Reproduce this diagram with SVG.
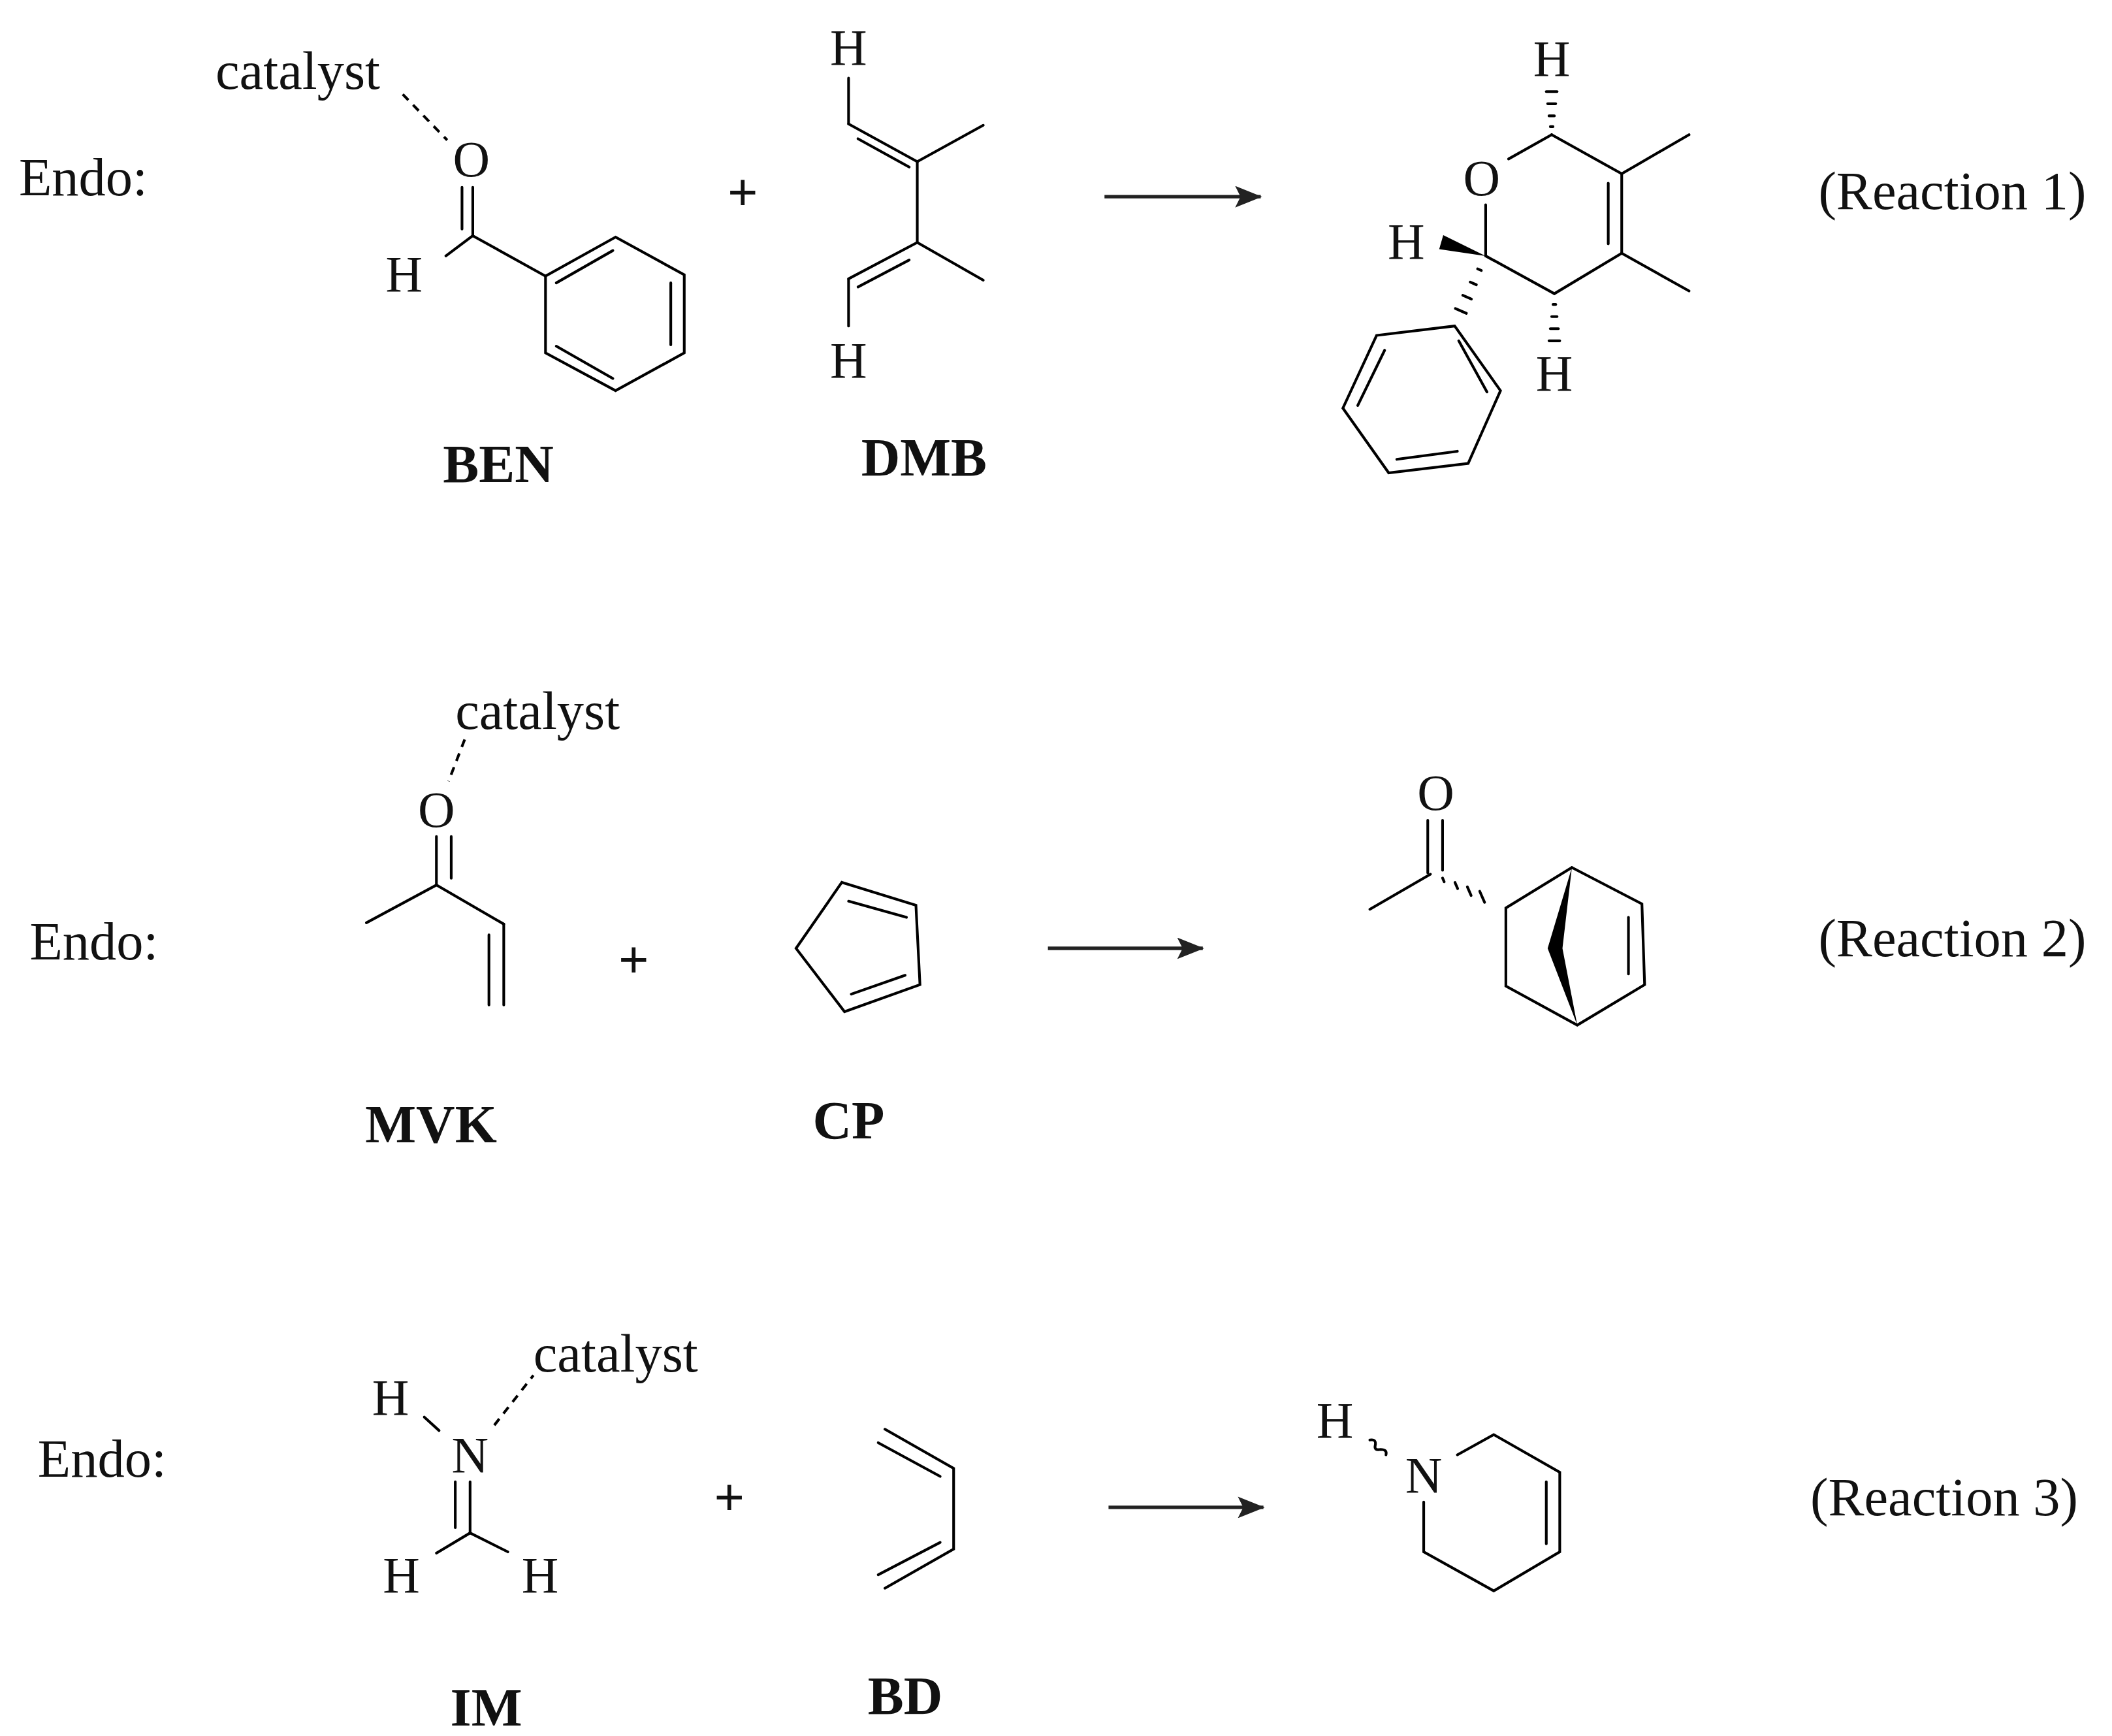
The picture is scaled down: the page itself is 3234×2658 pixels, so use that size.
<svg xmlns="http://www.w3.org/2000/svg" width="3234" height="2658" viewBox="0 0 3234 2658">
<style>
.b{stroke:#000;stroke-width:2;fill:none;stroke-linecap:round}
.d{stroke:#000;stroke-width:2;fill:none;stroke-dasharray:6,5}
.t{font-family:"Liberation Serif",serif;font-size:40px;fill:#111}
.a{font-family:"Liberation Serif",serif;font-size:38px;fill:#111;text-anchor:middle}
.l{font-family:"Liberation Serif",serif;font-size:40px;font-weight:bold;fill:#111;text-anchor:middle}
.arr{stroke:#222;stroke-width:2.6;fill:none}
</style>
<defs>
<marker id="ah" markerWidth="10" markerHeight="8" refX="9" refY="4" orient="auto" markerUnits="userSpaceOnUse"><path d="M0,0 L10,4 L0,8 Z" fill="#222"/></marker>
<marker id="ah2" viewBox="0 0 20 16" markerWidth="20" markerHeight="16" refX="19" refY="8" orient="auto" markerUnits="userSpaceOnUse"><path d="M0,0 L20,8 L0,16 L4,8 Z" fill="#222"/></marker>
</defs>
<rect width="3234" height="2658" fill="#fff"/>
<g transform="scale(2.0625)">
<!-- Reaction 1 -->
<g id="r1-labels">
<text class="t" x="14" y="145">Endo:</text>
<text class="t" x="1350" y="155">(Reaction 1)</text>
</g>
<g id="BEN">
<text class="t" x="160" y="66">catalyst</text>
<line class="d" x1="299" y1="70" x2="332" y2="104"/>
<text class="a" x="350" y="131">O</text>
<line class="b" x1="343" y1="139" x2="343" y2="170"/>
<line class="b" x1="351" y1="139" x2="351" y2="175"/>
<text class="a" x="300" y="216">H</text>
<line class="b" x1="351" y1="175" x2="331" y2="190"/>
<line class="b" x1="351" y1="175" x2="405" y2="205"/>
<polygon class="b" points="457,176 508,204 508,262 457,290 405,262 405,205"/>
<line class="b" x1="413" y1="210" x2="455" y2="186"/>
<line class="b" x1="498" y1="210" x2="498" y2="256"/>
<line class="b" x1="413" y1="257" x2="455" y2="281"/>
<text class="l" x="370" y="358">BEN</text>
</g>
<g id="plus1"><text class="t" x="540" y="156" style="font-weight:bold">+</text></g>
<g id="DMB">
<text class="a" x="630" y="48">H</text>
<line class="b" x1="630" y1="58" x2="630" y2="92"/>
<line class="b" x1="630" y1="92" x2="681" y2="120"/>
<line class="b" x1="637" y1="103" x2="675" y2="124"/>
<line class="b" x1="681" y1="120" x2="730" y2="93"/>
<line class="b" x1="681" y1="120" x2="681" y2="180"/>
<line class="b" x1="681" y1="180" x2="730" y2="208"/>
<line class="b" x1="681" y1="180" x2="630" y2="207"/>
<line class="b" x1="675" y1="193" x2="637" y2="213"/>
<line class="b" x1="630" y1="207" x2="630" y2="242"/>
<text class="a" x="630" y="280">H</text>
<text class="l" x="686" y="353">DMB</text>
</g>
<g id="P1">
<text class="a" x="1152" y="56">H</text>
<line class="b" x1="1151" y1="94" x2="1153" y2="94"/>
<line class="b" x1="1150" y1="86" x2="1154" y2="86"/>
<line class="b" x1="1149" y1="77" x2="1155" y2="77"/>
<line class="b" x1="1148" y1="68" x2="1156" y2="68"/>
<text class="a" x="1100" y="145">O</text>
<line class="b" x1="1152" y1="100" x2="1120" y2="118"/>
<line class="b" x1="1152" y1="100" x2="1204" y2="129"/>
<line class="b" x1="1204" y1="129" x2="1254" y2="100"/>
<line class="b" x1="1204" y1="129" x2="1204" y2="188"/>
<line class="b" x1="1194" y1="136" x2="1194" y2="181"/>
<line class="b" x1="1204" y1="188" x2="1254" y2="216"/>
<line class="b" x1="1204" y1="188" x2="1154" y2="218"/>
<line class="b" x1="1154" y1="218" x2="1103" y2="190"/>
<line class="b" x1="1103" y1="152" x2="1103" y2="190"/>
<polygon points="1103,190 1071.5,174.5 1068.5,185" fill="#000"/>
<text class="a" x="1044" y="192">H</text>
<line class="b" x1="1097" y1="199.6" x2="1099.8" y2="200.8"/>
<line class="b" x1="1091.5" y1="209.4" x2="1096.1" y2="211.4"/>
<line class="b" x1="1086" y1="219.2" x2="1092.4" y2="222"/>
<line class="b" x1="1080.5" y1="229" x2="1088.7" y2="232.6"/>
<line class="b" x1="1153" y1="226" x2="1155" y2="226"/>
<line class="b" x1="1152" y1="235" x2="1156" y2="235"/>
<line class="b" x1="1151" y1="244" x2="1157" y2="244"/>
<line class="b" x1="1150" y1="253" x2="1158" y2="253"/>
<text class="a" x="1154" y="290">H</text>
<polygon class="b" points="1080,242 1022,249 997,303 1031,351 1090,344 1114,290"/>
<line class="b" x1="1028" y1="260" x2="1008" y2="301"/>
<line class="b" x1="1037" y1="341" x2="1082" y2="335"/>
<line class="b" x1="1083" y1="253" x2="1104" y2="291"/>
</g>
<!-- Reaction 2 -->
<g id="r2-labels">
<text class="t" x="22" y="712">Endo:</text>
<text class="t" x="1350" y="710">(Reaction 2)</text>
</g>
<g id="MVK">
<text class="t" x="338" y="541">catalyst</text>
<line class="d" x1="345" y1="549" x2="333" y2="580"/>
<text class="a" x="324" y="614">O</text>
<line class="b" x1="324" y1="621" x2="324" y2="657"/>
<line class="b" x1="335" y1="621" x2="335" y2="652"/>
<line class="b" x1="324" y1="657" x2="272" y2="685"/>
<line class="b" x1="324" y1="657" x2="374" y2="686"/>
<line class="b" x1="374" y1="686" x2="374" y2="746"/>
<line class="b" x1="363" y1="694" x2="363" y2="746"/>
<text class="l" x="320" y="848">MVK</text>
</g>
<g id="plus2"><text class="t" x="459" y="726" style="font-weight:bold">+</text></g>
<g id="CP">
<polygon class="b" points="625,655 680,672 683,731 627,751 591,704"/>
<line class="b" x1="630" y1="669" x2="673" y2="681"/>
<line class="b" x1="632" y1="738" x2="672" y2="724"/>
<text class="l" x="630" y="845">CP</text>
</g>
<g id="P2">
<text class="a" x="1066" y="601">O</text>
<line class="b" x1="1060" y1="609" x2="1060" y2="648"/>
<line class="b" x1="1071" y1="609" x2="1071" y2="646"/>
<line class="b" x1="1062" y1="649" x2="1017" y2="675"/>
<line class="b" x1="1071" y1="651.8" x2="1072.2" y2="654.6"/>
<line class="b" x1="1080.2" y1="655.1" x2="1082.2" y2="659.7"/>
<line class="b" x1="1089.4" y1="658.4" x2="1092.2" y2="664.8"/>
<line class="b" x1="1098.6" y1="661.7" x2="1102.2" y2="669.9"/>
<polyline class="b" points="1167,644 1118,674 1118,732 1171,761 1221,731 1219,671 1167,644"/>
<line class="b" x1="1209" y1="681" x2="1209" y2="723"/>
<polygon points="1167,644 1149,704 1171,761 1160,704" fill="#000"/>
</g>
<!-- Reaction 3 -->
<g id="r3-labels">
<text class="t" x="28" y="1096">Endo:</text>
<text class="t" x="1344" y="1125">(Reaction 3)</text>
</g>
<g id="IM">
<text class="t" x="396" y="1018">catalyst</text>
<text class="a" x="290" y="1050">H</text>
<line class="b" x1="315" y1="1052" x2="326" y2="1062"/>
<line class="d" x1="367" y1="1058" x2="396" y2="1021"/>
<text class="a" x="349" y="1093">N</text>
<line class="b" x1="338" y1="1100" x2="338" y2="1134"/>
<line class="b" x1="349" y1="1100" x2="349" y2="1138"/>
<line class="b" x1="349" y1="1138" x2="324" y2="1153"/>
<line class="b" x1="349" y1="1138" x2="377" y2="1152"/>
<text class="a" x="298" y="1182">H</text>
<text class="a" x="401" y="1182">H</text>
<text class="l" x="361" y="1281">IM</text>
</g>
<g id="plus3"><text class="t" x="530" y="1125" style="font-weight:bold">+</text></g>
<g id="BD">
<polyline class="b" points="657,1061 708,1090 708,1150 657,1179"/>
<line class="b" x1="652" y1="1071" x2="698" y2="1096"/>
<line class="b" x1="652" y1="1169" x2="698" y2="1145"/>
<text class="l" x="672" y="1272">BD</text>
</g>
<g id="P3">
<text class="a" x="991" y="1067">H</text>
<path class="b" d="M1017,1069 q5,-1 4,4 q-1,4 4,3 q5,0 4,4" stroke-width="1.6"/>
<text class="a" x="1057" y="1108">N</text>
<polyline class="b" points="1082,1080 1109,1065 1158,1093 1158,1152 1109,1181 1057,1152 1057,1115"/>
<line class="b" x1="1148" y1="1100" x2="1148" y2="1146"/>
</g>
<g id="connectors">
<line class="arr" x1="820" y1="146" x2="936" y2="146" marker-end="url(#ah2)"/>
<line class="arr" x1="778" y1="704" x2="893" y2="704" marker-end="url(#ah2)"/>
<line class="arr" x1="823" y1="1119" x2="938" y2="1119" marker-end="url(#ah2)"/>
</g>
</g>
</svg>
